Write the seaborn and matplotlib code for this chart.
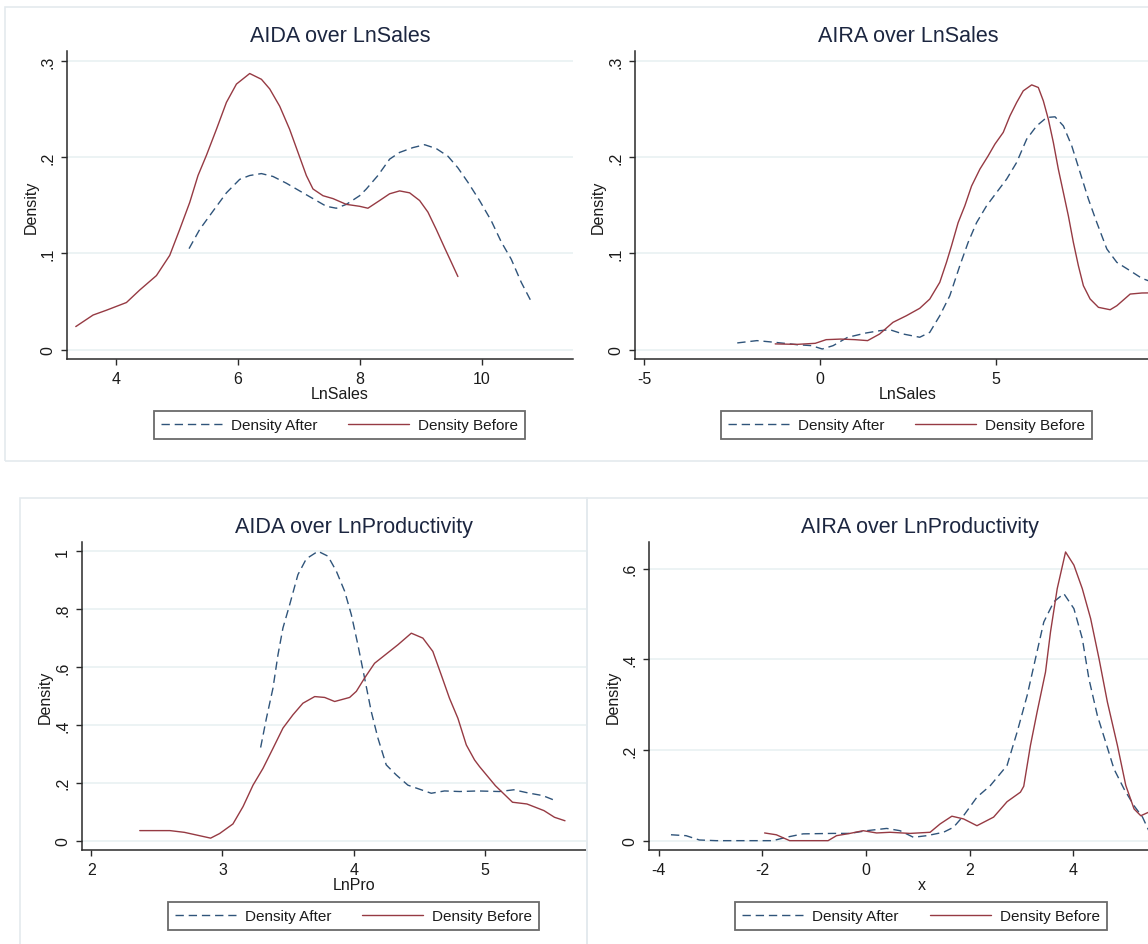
import numpy as np
import pandas as pd
import seaborn as sns
import matplotlib
matplotlib.use("Agg")
import matplotlib.pyplot as plt
from matplotlib.patches import Rectangle

# ---------------- data ----------------
titles = ["AIDA over LnSales", "AIRA over LnSales",
          "AIDA over LnProductivity", "AIRA over LnProductivity"]
xlabels = ["LnSales", "LnSales", "LnPro", "x"]
series_names = ["Density After", "Density Before"]

# Panel 1: AIDA over LnSales
p1_before_x = [3.344, 3.628, 3.847, 4.175, 4.393, 4.667, 4.885, 5.049, 5.213, 5.349, 5.487, 5.651,
               5.815, 5.979, 6.197, 6.389, 6.525, 6.689, 6.852, 6.989, 7.126, 7.235, 7.399, 7.563,
               7.782, 8.0, 8.136, 8.328, 8.492, 8.656, 8.82, 8.984, 9.12, 9.257, 9.393, 9.503, 9.612]
p1_before_y = [0.024, 0.036, 0.041, 0.049, 0.062, 0.077, 0.098, 0.125, 0.153, 0.181, 0.202, 0.229,
               0.257, 0.276, 0.287, 0.281, 0.271, 0.253, 0.229, 0.205, 0.181, 0.167, 0.160, 0.157,
               0.151, 0.149, 0.147, 0.155, 0.162, 0.165, 0.163, 0.155, 0.143, 0.125, 0.106, 0.091,
               0.076]
p1_after_x = [5.202, 5.377, 5.595, 5.815, 6.033, 6.197, 6.389, 6.579, 6.798, 7.016, 7.235, 7.454,
              7.618, 7.782, 8.0, 8.11, 8.3, 8.492, 8.656, 8.874, 9.066, 9.257, 9.449, 9.612, 9.776,
              9.967, 10.159, 10.323, 10.487, 10.651, 10.815]
p1_after_y = [0.105, 0.125, 0.144, 0.163, 0.177, 0.181, 0.183, 0.180, 0.173, 0.165, 0.157, 0.149,
              0.147, 0.151, 0.160, 0.167, 0.181, 0.198, 0.205, 0.210, 0.213, 0.209, 0.201, 0.189,
              0.174, 0.155, 0.134, 0.112, 0.094, 0.070, 0.050]

# Panel 2: AIRA over LnSales
p2_before_x = [-1.27, -0.65, -0.13, 0.18, 0.59, 1.0, 1.36, 1.703, 2.082, 2.464, 2.844, 3.129, 3.414,
               3.605, 3.748, 3.936, 4.127, 4.318, 4.555, 4.792, 4.983, 5.22, 5.411, 5.602, 5.79,
               6.03, 6.218, 6.361, 6.503, 6.646, 6.788, 6.931, 7.074, 7.216, 7.359, 7.501, 7.692,
               7.929, 8.263, 8.454, 8.833, 9.167, 9.4]
p2_before_y = [0.006, 0.0055, 0.0066, 0.0104, 0.011, 0.0104, 0.0094, 0.0163, 0.0284, 0.0353,
               0.043, 0.0526, 0.070, 0.0908, 0.108, 0.132, 0.1495, 0.170, 0.1876, 0.2015, 0.2136,
               0.2258, 0.243, 0.2569, 0.269, 0.2752, 0.2725, 0.2586, 0.2396, 0.2154, 0.1876,
               0.1634, 0.139, 0.1115, 0.0872, 0.0665, 0.0527, 0.044, 0.0415, 0.0457, 0.0578,
               0.0589, 0.059]
p2_after_x = [-2.35, -1.79, -1.27, -0.65, -0.24, 0.07, 0.38, 0.79, 1.31, 1.703, 1.988, 2.367, 2.844,
              3.129, 3.414, 3.699, 3.984, 4.221, 4.461, 4.746, 5.031, 5.317, 5.602, 5.887, 6.172,
              6.457, 6.694, 6.931, 7.17, 7.407, 7.644, 7.884, 8.169, 8.454, 8.833, 9.167, 9.4]
p2_after_y = [0.007, 0.0094, 0.0076, 0.0052, 0.0042, 0.0007, 0.0042, 0.0128, 0.0173, 0.0197,
              0.0208, 0.0163, 0.0129, 0.018, 0.0353, 0.056, 0.0872, 0.1115, 0.132, 0.1495, 0.1634,
              0.1773, 0.1946, 0.2188, 0.2326, 0.2413, 0.242, 0.2326, 0.2118, 0.1842, 0.1565,
              0.132, 0.1046, 0.0907, 0.082, 0.0741, 0.071]

# Panel 3: AIDA over LnProductivity
p3_before_x = [2.37, 2.60, 2.71, 2.91, 2.979, 3.08, 3.157, 3.233, 3.309, 3.385, 3.461, 3.537, 3.613,
               3.703, 3.779, 3.855, 3.969, 4.02, 4.083, 4.159, 4.248, 4.337, 4.439, 4.527, 4.603,
               4.667, 4.73, 4.794, 4.858, 4.921, 4.959, 5.08, 5.21, 5.32, 5.45, 5.53, 5.61]
p3_before_y = [0.035, 0.035, 0.029, 0.009, 0.025, 0.058, 0.118, 0.192, 0.250, 0.319, 0.389, 0.435,
               0.475, 0.498, 0.495, 0.481, 0.495, 0.516, 0.562, 0.613, 0.645, 0.677, 0.717, 0.700,
               0.654, 0.573, 0.492, 0.423, 0.331, 0.279, 0.256, 0.190, 0.133, 0.127, 0.104, 0.081,
               0.069]
p3_after_x = [3.291, 3.335, 3.385, 3.423, 3.461, 3.512, 3.575, 3.639, 3.728, 3.804, 3.868, 3.931,
              3.982, 4.032, 4.083, 4.134, 4.185, 4.248, 4.325, 4.413, 4.502, 4.591, 4.692, 4.807,
              4.946, 5.11, 5.22, 5.33, 5.44, 5.54]
p3_after_y = [0.322, 0.423, 0.527, 0.642, 0.735, 0.815, 0.919, 0.974, 1.0, 0.983, 0.931, 0.862,
              0.781, 0.677, 0.562, 0.446, 0.354, 0.262, 0.227, 0.192, 0.178, 0.164, 0.172, 0.170,
              0.172, 0.170, 0.176, 0.165, 0.156, 0.138]

# Panel 4: AIRA over LnProductivity
p4_before_x = [-1.959, -1.733, -1.475, -0.734, -0.571, -0.314, -0.056, 0.203, 0.461, 0.848, 1.235,
               1.429, 1.655, 1.88, 2.139, 2.461, 2.72, 2.978, 3.042, 3.171, 3.30, 3.462, 3.559,
               3.688, 3.849, 4.01, 4.172, 4.333, 4.494, 4.656, 4.85, 5.011, 5.171, 5.301, 5.456]
p4_before_y = [0.017, 0.013, 0.0, 0.0, 0.011, 0.016, 0.022, 0.017, 0.0185, 0.016, 0.0185, 0.037,
               0.054, 0.048, 0.033, 0.052, 0.086, 0.107, 0.120, 0.210, 0.284, 0.372, 0.461, 0.556,
               0.637, 0.608, 0.556, 0.490, 0.402, 0.306, 0.210, 0.122, 0.070, 0.055, 0.063]
p4_after_x = [-3.766, -3.475, -3.218, -2.894, -1.799, -1.539, -1.218, -0.637, -0.314, 0.01, 0.397,
              0.654, 0.912, 1.171, 1.493, 1.686, 1.88, 2.139, 2.397, 2.72, 2.914, 3.107, 3.268,
              3.429, 3.622, 3.816, 4.01, 4.172, 4.30, 4.463, 4.623, 4.784, 4.978, 5.171, 5.334,
              5.456]
p4_after_y = [0.013, 0.011, 0.0015, 0.0, 0.0, 0.0075, 0.015, 0.016, 0.016, 0.022, 0.027, 0.022,
              0.0075, 0.011, 0.0185, 0.0295, 0.055, 0.096, 0.1215, 0.166, 0.2395, 0.320, 0.4015,
              0.4825, 0.527, 0.545, 0.512, 0.446, 0.357, 0.276, 0.2175, 0.158, 0.114, 0.077,
              0.052, 0.022]

yticks = [[0, 0.1, 0.2, 0.3], [0, 0.1, 0.2, 0.3], [0, 0.2, 0.4, 0.6, 0.8, 1.0], [0, 0.2, 0.4, 0.6]]
ytick_labels = [["0", ".1", ".2", ".3"], ["0", ".1", ".2", ".3"],
                ["0", ".2", ".4", ".6", ".8", "1"], ["0", ".2", ".4", ".6"]]
xticks = [[4, 6, 8, 10], [-5, 0, 5], [2, 3, 4, 5], [-4, -2, 0, 2, 4]]
xtick_labels = [["4", "6", "8", "10"], ["-5", "0", "5"], ["2", "3", "4", "5"],
                ["-4", "-2", "0", "2", "4"]]

# ---------------- styling ----------------
sns.set_style("white")
plt.rcParams["font.family"] = ["Liberation Sans", "DejaVu Sans"]

W, H = 1148, 945
fig = plt.figure(figsize=(W / 100, H / 100), dpi=100)
fig.patch.set_facecolor("white")

AFTER_C = "#2f547a"
BEFORE_C = "#963a43"
TEXT_C = "#1b1b1b"
TITLE_C = "#1c2640"
GRID_C = "#e9f1f2"
FRAME_C = "#e4eaee"


def rect(l, t, r, b):
    return [l / W, 1 - b / H, (r - l) / W, (b - t) / H]


# faint outer frames of the stitched graphs
for (l, t, r, b) in [(5, 8, 1160, 462), (20, 499, 587, 960), (587, 499, 1160, 960)]:
    fig.patches.append(Rectangle((l / W, 1 - b / H), (r - l) / W, (b - t) / H,
                                 transform=fig.transFigure, fill=False,
                                 edgecolor=FRAME_C, linewidth=1.2, zorder=0))

axes_px = [(67, 52, 573, 360), (635, 52, 1148, 360), (82, 543, 586, 851), (649, 543, 1148, 851)]
xlims = [(3.2, 11.5), (-5.26, 9.34), (1.93, 5.77), (-4.19, 5.44)]
ylims = [(-0.0097, 0.3104), (-0.0097, 0.3104), (-0.032, 1.032), (-0.0206, 0.659)]

data = [
    (p1_after_x, p1_after_y, p1_before_x, p1_before_y),
    (p2_after_x, p2_after_y, p2_before_x, p2_before_y),
    (p3_after_x, p3_after_y, p3_before_x, p3_before_y),
    (p4_after_x, p4_after_y, p4_before_x, p4_before_y),
]

title_pos = [(340, 36), (908, 36), (354, 527), (920, 527)]
xlabel_pos = [(340, 395), (908, 395), (354, 886), (922, 886)]
ylabel_pos = [(31, 207), (598, 207), (45, 697), (613, 697)]
legend_pos = [(339.5, 426), (906.5, 426), (353.5, 917), (921, 917)]

for i in range(4):
    ax = fig.add_axes(rect(*axes_px[i]))
    ax.set_facecolor("white")
    ax_x, ax_y, bx, by = data[i]
    df_a = pd.DataFrame({"x": ax_x, "y": ax_y})
    df_b = pd.DataFrame({"x": bx, "y": by})
    sns.lineplot(data=df_a, x="x", y="y", ax=ax, sort=False, estimator=None,
                 color=AFTER_C, linewidth=1.0, linestyle=(0, (6, 3.5)),
                 dash_joinstyle="round", label=series_names[0])
    sns.lineplot(data=df_b, x="x", y="y", ax=ax, sort=False, estimator=None,
                 color=BEFORE_C, linewidth=1.0, solid_joinstyle="round",
                 label=series_names[1])
    ax.set_xlim(*xlims[i])
    ax.set_ylim(*ylims[i])
    ax.set_xticks(xticks[i])
    ax.set_xticklabels(xtick_labels[i])
    ax.set_yticks(yticks[i])
    ax.set_yticklabels(ytick_labels[i], rotation=90, va="center")
    ax.set_xlabel("")
    ax.set_ylabel("")
    ax.yaxis.grid(True, color=GRID_C, linewidth=1.2)
    ax.xaxis.grid(False)
    ax.set_axisbelow(True)
    for s in ["top", "right"]:
        ax.spines[s].set_visible(False)
    for s in ["left", "bottom"]:
        ax.spines[s].set_color("#2a2a2a")
        ax.spines[s].set_linewidth(1.1)
    ax.tick_params(axis="both", which="major", direction="out", length=4.5, width=1.0,
                   color="#2a2a2a", labelsize=11.5, labelcolor=TEXT_C, pad=4,
                   left=True, bottom=True)
    ax.get_legend().remove()

    handles, labels = ax.get_legend_handles_labels()
    lx, ly = legend_pos[i]
    leg = fig.legend(handles, labels, loc="center", bbox_to_anchor=(lx / W, 1 - ly / H),
                     ncol=2, frameon=True, fancybox=False, fontsize=11,
                     handlelength=4.0, handletextpad=0.6, columnspacing=2.0,
                     borderpad=0.45, borderaxespad=0)
    leg.get_frame().set_edgecolor("#454545")
    leg.get_frame().set_linewidth(1.3)
    for t in leg.get_texts():
        t.set_color(TEXT_C)

    tx, ty = title_pos[i]
    fig.text(tx / W, 1 - ty / H, titles[i], ha="center", va="center",
             fontsize=15.5, color=TITLE_C)
    xx, xy = xlabel_pos[i]
    fig.text(xx / W, 1 - xy / H, xlabels[i], ha="center", va="center",
             fontsize=11.5, color=TEXT_C)
    yx, yy = ylabel_pos[i]
    fig.text(yx / W, 1 - yy / H, "Density", ha="center", va="center", rotation=90,
             fontsize=11.5, color=TEXT_C)

fig.savefig("out.png", dpi=100, facecolor="white")
